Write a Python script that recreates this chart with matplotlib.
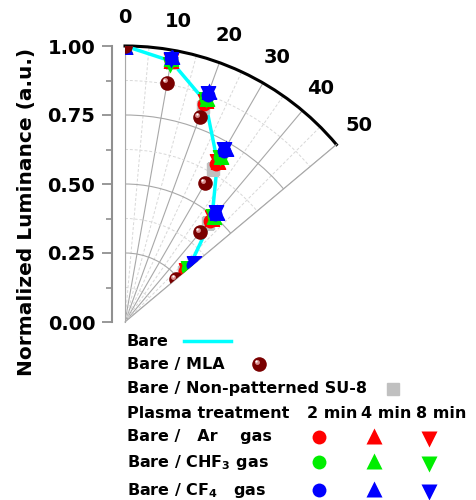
import numpy as np
import matplotlib
matplotlib.use("Agg")
from matplotlib import pyplot as plt
from matplotlib.ticker import MultipleLocator, FormatStrFormatter
from matplotlib.transforms import ScaledTranslation

plt.rcParams['font.family'] = ['DejaVu Sans']
plt.rcParams['font.weight'] = 'bold'
plt.rcParams['mathtext.default'] = 'regular'

# emission angle (deg) and normalized luminance
angles = [0, 10, 20, 30, 40, 50]
bare = [1.00, 0.96, 0.85, 0.67, 0.49, 0.30]
mla = [1.00, 0.88, 0.79, 0.58, 0.425, 0.24]
su8 = [1.00, 0.955, 0.83, 0.64, 0.47, 0.28]
ar_2 = [1.00, 0.96, 0.84, 0.66, 0.48, 0.285]
ar_4 = [1.00, 0.965, 0.855, 0.675, 0.49, 0.29]
ar_8 = [1.00, 0.96, 0.85, 0.67, 0.49, 0.29]
chf3_2 = [1.00, 0.965, 0.86, 0.69, 0.50, 0.30]
chf3_4 = [1.00, 0.97, 0.865, 0.695, 0.50, 0.305]
chf3_8 = [1.00, 0.945, 0.855, 0.685, 0.495, 0.30]
cf4_2 = [1.00, 0.97, 0.875, 0.715, 0.51, 0.32]
cf4_4 = [1.00, 0.98, 0.89, 0.73, 0.52, 0.33]
cf4_8 = [1.00, 0.965, 0.88, 0.72, 0.515, 0.325]

theta = np.deg2rad(angles)
W, H = 476, 500
fig = plt.figure(figsize=(W / 100, H / 100), dpi=100)

# wedge origin and radius in pixels; polar wedge is centred in a square box
ox, oy, R = 125, 322, 276
sq_left = ox - (1 - np.sin(np.deg2rad(50))) / 2 * R
ax = fig.add_axes([sq_left / W, (H - oy) / H, R / W, R / H], projection='polar')
ax.set_theta_zero_location('N')
ax.set_theta_direction(-1)
ax.set_thetamin(0)
ax.set_thetamax(50)
ax.set_rlim(0, 1)

ax.set_xticks(np.deg2rad(np.arange(0, 51, 10)))
ax.set_xticks(np.deg2rad(np.arange(5, 50, 10)), minor=True)
ax.set_yticks([0.25, 0.5, 0.75, 1.0])
ax.set_yticks([0.125, 0.375, 0.625, 0.875], minor=True)
ax.set_xticklabels([])
ax.set_yticklabels([])
ax.tick_params(axis='y', which='both', length=0)
ax.tick_params(axis='x', which='major', direction='in', length=8, width=1.3, color='black')
ax.tick_params(axis='x', which='minor', direction='in', length=5, width=1.0, color='black')
ax.grid(True, which='major', color='#a8a8a8', lw=0.8, ls='-')
ax.grid(True, which='minor', color='#d8d8d8', lw=0.7, ls=(0, (3, 2)))
ax.spines['polar'].set_linewidth(2.2)
ax.spines['polar'].set_color('black')
for s in ['start', 'end']:
    ax.spines[s].set_color('#a8a8a8')
    ax.spines[s].set_linewidth(0.8)

for a in range(0, 51, 10):
    ax.text(np.deg2rad(a), 1.105, str(a), ha='center', va='center',
            fontsize=14, fontweight='bold', clip_on=False)

ms_c = 10
ms_t = 11
ax.plot(theta, bare, color='#00ffff', lw=2.5, zorder=3)
ax.plot(theta, su8, 's', color='#c0c0c0', ms=9, zorder=4)
ax.plot(theta, ar_2, 'o', color='#ff0000', ms=ms_c, mec='none', zorder=5)
ax.plot(theta, ar_4, '^', color='#ff0000', ms=ms_t, mec='none', zorder=5)
ax.plot(theta, ar_8, 'v', color='#ff0000', ms=ms_t, mec='none', zorder=5)
ax.plot(theta, chf3_2, 'o', color='#00ee00', ms=ms_c, mec='none', zorder=6)
ax.plot(theta, chf3_4, '^', color='#00ee00', ms=ms_t, mec='none', zorder=6)
ax.plot(theta, chf3_8, 'v', color='#00ee00', ms=ms_t, mec='none', zorder=6)
ax.plot(theta, cf4_2, 'o', color='#0000ff', ms=ms_c, mec='none', zorder=7)
ax.plot(theta, cf4_4, '^', color='#0000ff', ms=ms_t, mec='none', zorder=7)
ax.plot(theta, cf4_8, 'v', color='#0000ff', ms=ms_t, mec='none', zorder=7)
# MLA: shaded sphere
ax.plot(theta, mla, 'o', color='#7a0000', ms=10.5, mec='none', zorder=8)
hl = ax.transData + ScaledTranslation(-1.8 / 72, 1.8 / 72, fig.dpi_scale_trans)
ax.plot(theta, mla, 'o', color='#d89090', ms=3.5, mec='none', zorder=9, transform=hl)
hl2 = ax.transData + ScaledTranslation(-2.2 / 72, 2.2 / 72, fig.dpi_scale_trans)
ax.plot(theta, mla, 'o', color='white', ms=1.6, mec='none', zorder=10, transform=hl2)

# left radial scale
ax2 = fig.add_axes([112 / W, (H - oy) / H, 0.001, R / H])
ax2.set_ylim(0, 1)
ax2.patch.set_visible(False)
for s in ['top', 'right', 'bottom']:
    ax2.spines[s].set_visible(False)
ax2.spines['left'].set_color('#909090')
ax2.spines['left'].set_linewidth(1.5)
ax2.set_xticks([])
ax2.yaxis.set_major_locator(MultipleLocator(0.25))
ax2.yaxis.set_minor_locator(MultipleLocator(0.125))
ax2.yaxis.set_major_formatter(FormatStrFormatter('%.2f'))
ax2.tick_params(axis='y', which='major', length=7, width=1.3, color='#909090',
                labelsize=14, pad=5)
ax2.tick_params(axis='y', which='minor', length=4, width=1.2, color='#909090')
for t in ax2.get_yticklabels():
    t.set_fontweight('bold')

fig.text(27 / W, 1 - 212 / H, 'Normalized Luminance (a.u.)', rotation=90,
         ha='center', va='center', fontsize=14.5, fontweight='bold')

# legend (drawn in pixel coordinates)
lg = fig.add_axes([0, 0, 1, 1])
lg.set_xlim(0, W)
lg.set_ylim(H, 0)
lg.axis('off')
fs = 11.5
lx = 127
rows = {'bare': 341, 'mla': 364, 'su8': 389, 'head': 414, 'ar': 437, 'chf3': 462, 'cf4': 490}
lg.text(lx, rows['bare'], 'Bare', fontsize=fs, va='center')
lg.plot([184, 231], [rows['bare']] * 2, color='#00ffff', lw=2.5)
lg.text(lx, rows['mla'], 'Bare / MLA', fontsize=fs, va='center')
lg.plot([259], [rows['mla']], 'o', color='#7a0000', ms=10.5, mec='none')
lg.plot([256.5], [rows['mla'] - 2.5], 'o', color='#d89090', ms=3.5, mec='none')
lg.plot([256], [rows['mla'] - 3], 'o', color='white', ms=1.6, mec='none')
lg.text(lx, rows['su8'], 'Bare / Non-patterned SU-8', fontsize=fs, va='center')
lg.plot([393], [rows['su8']], 's', color='#c0c0c0', ms=9)
lg.text(lx, rows['head'], 'Plasma treatment', fontsize=fs, va='center')
for x, lab in zip([332, 386, 441], ['2 min', '4 min', '8 min']):
    lg.text(x, rows['head'], lab, fontsize=fs, va='center', ha='center')
gases = [('ar', 'Bare /   Ar    gas', '#ff0000'),
         ('chf3', 'Bare / CHF$_3$ gas', '#00ee00'),
         ('cf4', 'Bare / CF$_4$   gas', '#0000ff')]
for key, lab, col in gases:
    y = rows[key]
    lg.text(lx, y, lab, fontsize=fs, va='center')
    lg.plot([319], [y], 'o', color=col, ms=ms_c, mec='none')
    lg.plot([374], [y - 1.5], '^', color=col, ms=ms_t, mec='none')
    lg.plot([429], [y + 1.5], 'v', color=col, ms=ms_t, mec='none')

fig.savefig('out.png', dpi=100)
